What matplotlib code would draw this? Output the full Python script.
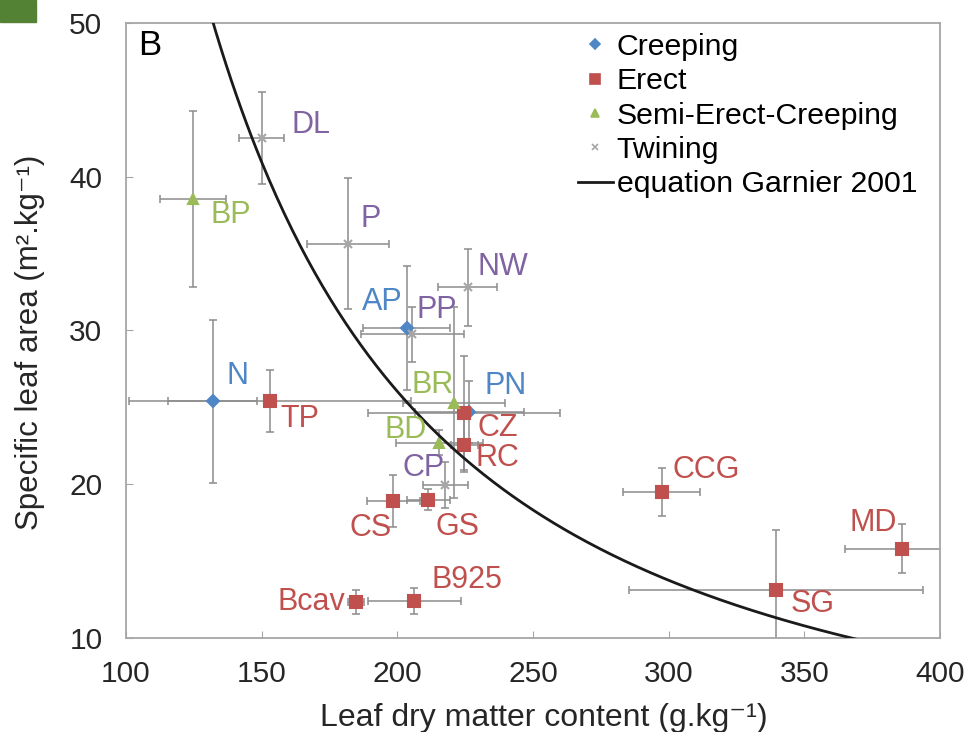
import numpy as np
import matplotlib
matplotlib.use("Agg")
from matplotlib import pyplot as plt
from matplotlib.lines import Line2D
from matplotlib.patches import Rectangle

plt.rcParams['font.family'] = ['Liberation Sans', 'DejaVu Sans']

# species data
names = ['N', 'AP', 'PN',
         'TP', 'CZ', 'RC', 'CS', 'GS', 'Bcav', 'B925', 'CCG', 'SG', 'MD',
         'BP', 'BR', 'BD',
         'DL', 'P', 'NW', 'PP', 'CP']
habit = ['Creeping'] * 3 + ['Erect'] * 10 + ['Semi-Erect-Creeping'] * 3 + ['Twining'] * 5
ldmc = [132, 203.5, 226.5,
        153, 224.7, 224.7, 198.5, 211.4, 184.7, 206.3, 297.4, 339.5, 385.9,
        124.8, 220.8, 215.5,
        150, 181.9, 225.9, 205.5, 217.6]
sla = [25.4, 30.15, 24.7,
       25.4, 24.65, 22.55, 18.9, 19.0, 12.35, 12.4, 19.5, 13.1, 15.8,
       38.55, 25.3, 22.7,
       42.5, 35.65, 32.8, 29.75, 19.95]
ldmc_err = [16.4, 16, 20,
            52, 35.4, 5, 9.8, 8, 3, 17, 14.2, 54.3, 21,
            12.1, 18.7, 16,
            8.2, 15.2, 11, 19, 8.3]
sla_err = [5.3, 4.05, 2.0,
           2.0, 3.7, 1.75, 1.7, 0.7, 0.8, 0.85, 1.55, 3.95, 1.6,
           5.7, 6.2, 0.8,
           3.0, 4.27, 2.5, 1.8, 1.5]

# equation Garnier 2001 (power law SLA = a * LDMC^b)
garnier_a = 109000.0
garnier_b = -1.574

# styles
habits = ['Creeping', 'Erect', 'Semi-Erect-Creeping', 'Twining']
marker_style = {
    'Creeping': dict(marker='D', color='#4f86c6', ms=6),
    'Erect': dict(marker='s', color='#c0504d', ms=9),
    'Semi-Erect-Creeping': dict(marker='^', color='#9bbb59', ms=7),
    'Twining': dict(marker='x', color='#a6a6a6', ms=6),
}
label_color = {'Creeping': '#4f86c6', 'Erect': '#c0504d',
               'Semi-Erect-Creeping': '#9bbb59', 'Twining': '#8064a2'}
label_offset = {
    'N': (25, 25), 'AP': (-25, 26), 'PN': (36, 26),
    'TP': (30, -18), 'CZ': (33, -15), 'RC': (33, -13), 'CS': (-23, -27),
    'GS': (29, -27), 'Bcav': (-44, 0), 'B925': (53, 21), 'CCG': (45, 22),
    'SG': (37, -14), 'MD': (-29, 26),
    'BP': (37, -16), 'BR': (-21, 18), 'BD': (-34, 13),
    'DL': (49, 13), 'P': (22, 25), 'NW': (35, 20), 'PP': (24, 24), 'CP': (-22, 17),
}

fig = plt.figure(figsize=(9.67, 7.32), dpi=100)
ax = fig.add_axes([0.1303, 0.1284, 0.8418, 0.8402])

ax.errorbar(ldmc, sla, xerr=ldmc_err, yerr=sla_err, fmt='none',
            ecolor='#8c8c8c', elinewidth=1.1, capsize=3, capthick=1.1, zorder=2)

for h in habits:
    idx = [i for i, v in enumerate(habit) if v == h]
    st = marker_style[h]
    ax.plot([ldmc[i] for i in idx], [sla[i] for i in idx], linestyle='none',
            marker=st['marker'], color=st['color'], ms=st['ms'], mew=1.5, zorder=3)
    for i in idx:
        ax.annotate(names[i], (ldmc[i], sla[i]), xytext=label_offset[names[i]],
                    textcoords='offset pixels', ha='center', va='center',
                    color=label_color[h], fontsize=22, zorder=4)

xc = np.linspace(120, 400, 300)
ax.plot(xc, garnier_a * xc ** garnier_b, color='#1a1a1a', lw=2.0, zorder=3)

ax.set_xlim(100, 400)
ax.set_ylim(10, 50)
ax.set_xticks(np.arange(100, 401, 50))
ax.set_yticks(np.arange(10, 51, 10))
ax.tick_params(direction='in', length=5, color='#a6a6a6', labelsize=21.5,
               labelcolor='#262626')
ax.tick_params(axis='x', pad=16)
ax.tick_params(axis='y', pad=17)
for sp in ax.spines.values():
    sp.set_color('#a6a6a6')
    sp.set_linewidth(1.3)

ax.set_xlabel('Leaf dry matter content (g.kg⁻¹)', fontsize=23, color='#262626')
ax.set_ylabel('Specific leaf area (m².kg⁻¹)', fontsize=22.5, color='#262626')
ax.xaxis.set_label_coords(0.513, -0.105)
ax.yaxis.set_label_coords(-0.1, 0.48)
ax.text(0.015, 0.991, 'B', transform=ax.transAxes, fontsize=25, va='top', ha='left')

handles = [Line2D([], [], linestyle='none', marker=marker_style[h]['marker'],
                  color=marker_style[h]['color'], ms=marker_style[h]['ms'] * 0.8, mew=1.2)
           for h in habits]
handles.append(Line2D([], [], color='#1a1a1a', lw=2.0))
ax.legend(handles, habits + ['equation Garnier 2001'], loc='upper left',
          bbox_to_anchor=(0.5553, 0.984), frameon=False, fontsize=21.8,
          handlelength=1.15, handletextpad=0.13, labelspacing=0.21,
          borderaxespad=0, borderpad=0)

fig.patches.append(Rectangle((0, 0.97), 0.037, 0.03, transform=fig.transFigure,
                             color='#548235', zorder=0))

fig.savefig('out.png', dpi=100)
